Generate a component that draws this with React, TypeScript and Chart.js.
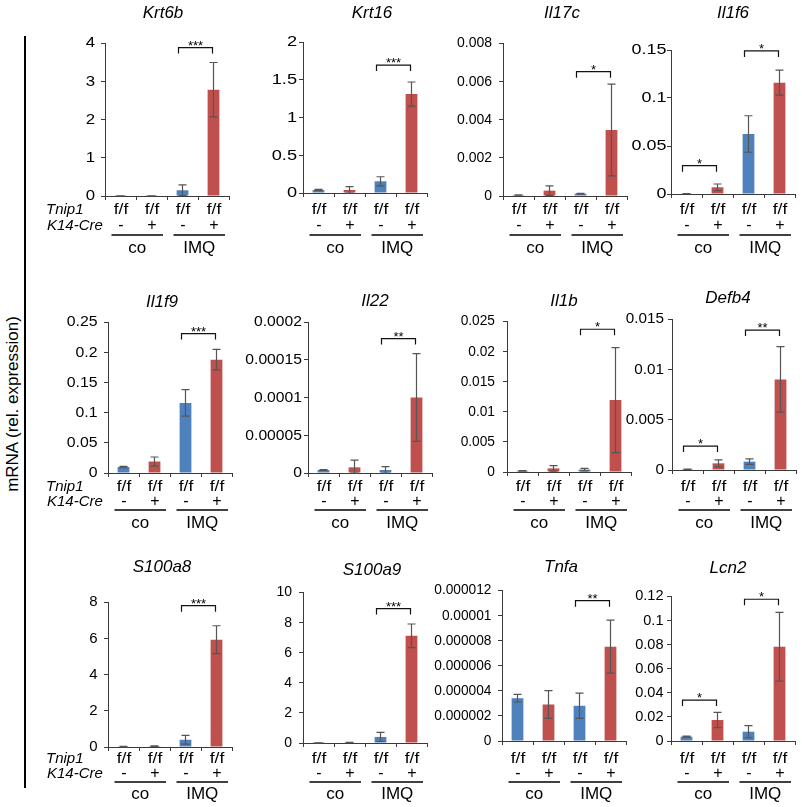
import React, { useEffect, useRef } from 'react';
import { Chart, registerables } from 'chart.js';

Chart.register(...registerables);

const FONT = "'Liberation Sans', Arial, Helvetica, sans-serif";
const AXIS_COLOR = '#3a3a3a';
const ERR_COLOR = '#555555';

// ---- shared categories / labels ----
const CATEGORIES = ['co -', 'co +', 'IMQ -', 'IMQ +'];
const TNIP1_LABELS = ['f/f', 'f/f', 'f/f', 'f/f'];
const CRE_LABELS = ['-', '+', '-', '+'];
const GROUP_LABELS = ['co', 'IMQ'];
const BAR_COLORS = ['#4F81BD', '#C0504D', '#4F81BD', '#C0504D'];
const Y_TITLE = 'mRNA (rel. expression)';

// ---- per-gene data ----
const krt6bMean = [0.004, 0.004, 0.15, 2.78];
const krt6bErr = [0.002, 0.002, 0.14, 0.71];
const krt6bTicks = ['0', '1', '2', '3', '4'];
const krt6bSig: [number, number, string, number][] = [[2, 3, '***', 3.88]];

const krt16Mean = [0.04, 0.04, 0.155, 1.31];
const krt16Err = [0.008, 0.045, 0.06, 0.16];
const krt16Ticks = ['0', '0.5', '1', '1.5', '2'];
const krt16Sig: [number, number, string, number][] = [[2, 3, '***', 1.695]];

const il17cMean = [0.00005, 0.00028, 0.00012, 0.00345];
const il17cErr = [0.00001, 0.00025, 0.00002, 0.0024];
const il17cTicks = ['0', '0.002', '0.004', '0.006', '0.008'];
const il17cSig: [number, number, string, number][] = [[2, 3, '*', 0.0065]];

const il1f6Mean = [0.0004, 0.007, 0.0625, 0.116];
const il1f6Err = [0.0001, 0.0034, 0.019, 0.013];
const il1f6Ticks = ['0', '0.05', '0.1', '0.15'];
const il1f6Sig: [number, number, string, number][] = [[0, 1, '*', 0.0295], [2, 3, '*', 0.149]];

const il1f9Mean = [0.0099, 0.019, 0.116, 0.1877];
const il1f9Err = [0.0012, 0.0075, 0.022, 0.017];
const il1f9Ticks = ['0', '0.05', '0.1', '0.15', '0.2', '0.25'];
const il1f9Sig: [number, number, string, number][] = [[2, 3, '***', 0.2308]];

const il22Mean = [0.000004, 0.0000075, 0.000004, 0.0001];
const il22Err = [0.0000005, 0.0000095, 0.0000045, 0.000058];
const il22Ticks = ['0', '0.00005', '0.0001', '0.00015', '0.0002'];
const il22Sig: [number, number, string, number][] = [[2, 3, '**', 0.000178]];

const il1bMean = [0.0002, 0.0006, 0.0004, 0.0119];
const il1bErr = [0.00005, 0.00045, 0.0002, 0.0087];
const il1bTicks = ['0', '0.005', '0.01', '0.015', '0.02', '0.025'];
const il1bSig: [number, number, string, number][] = [[2, 3, '*', 0.02363]];

const defb4Mean = [0.00008, 0.00066, 0.00083, 0.009];
const defb4Err = [0.00002, 0.00035, 0.00028, 0.00325];
const defb4Ticks = ['0', '0.005', '0.01', '0.015'];
const defb4Sig: [number, number, string, number][] = [[0, 1, '*', 0.00238], [2, 3, '**', 0.0139]];

const s100a8Mean = [0.02, 0.05, 0.4, 5.92];
const s100a8Err = [0.01, 0.02, 0.24, 0.77];
const s100a8Ticks = ['0', '2', '4', '6', '8'];
const s100a8Sig: [number, number, string, number][] = [[2, 3, '***', 7.8]];

const s100a9Mean = [0.005, 0.03, 0.4, 7.1];
const s100a9Err = [0.002, 0.01, 0.3, 0.78];
const s100a9Ticks = ['0', '2', '4', '6', '8', '10'];
const s100a9Sig: [number, number, string, number][] = [[2, 3, '***', 8.9]];

const tnfaMean = [0.0000034, 0.0000029, 0.0000028, 0.0000075];
const tnfaErr = [0.0000003, 0.0000011, 0.000001, 0.0000021];
const tnfaTicks = ['0', '0.000002', '0.000004', '0.000006', '0.000008', '0.00001', '0.000012'];
const tnfaSig: [number, number, string, number][] = [[2, 3, '**', 0.00001115]];

const lcn2Mean = [0.0036, 0.0174, 0.0077, 0.078];
const lcn2Err = [0.0005, 0.0063, 0.005, 0.0285];
const lcn2Ticks = ['0', '0.02', '0.04', '0.06', '0.08', '0.1', '0.12'];
const lcn2Sig: [number, number, string, number][] = [[0, 1, '*', 0.0339], [2, 3, '*', 0.1173]];

// ---- layout ----
const ROWS = [
  { top: 0, height: 268, ff: 210, sign: 226, line: 235, group: 248 },
  { top: 268, height: 272, ff: 487, sign: 502, line: 510, group: 523 },
  { top: 540, height: 267, ff: 759, sign: 774, line: 782, group: 794 },
];

type Panel = {
  title: string;
  mean: number[];
  err: number[];
  ticks: string[];
  sig: [number, number, string, number][];
  axisX: number;
  top: number;
  zero: number;
  titleX: number;
  titleY: number;
  row: number;
  rowNames: boolean;
  tickSX: number; // horizontal stretch of tick labels
  tickGap: number; // gap between label and axis
};

const PANELS: Panel[] = [
  { title: 'Krt6b', mean: krt6bMean, err: krt6bErr, ticks: krt6bTicks, sig: krt6bSig, axisX: 105, top: 43, zero: 196, titleX: 163, titleY: 13, row: 0, rowNames: true, tickSX: 1.2, tickGap: 10 },
  { title: 'Krt16', mean: krt16Mean, err: krt16Err, ticks: krt16Ticks, sig: krt16Sig, axisX: 303, top: 42, zero: 193, titleX: 372, titleY: 13, row: 0, rowNames: false, tickSX: 1.3, tickGap: 6 },
  { title: 'Il17c', mean: il17cMean, err: il17cErr, ticks: il17cTicks, sig: il17cSig, axisX: 503, top: 43, zero: 196, titleX: 562, titleY: 13, row: 0, rowNames: false, tickSX: 1.0, tickGap: 11 },
  { title: 'Il1f6', mean: il1f6Mean, err: il1f6Err, ticks: il1f6Ticks, sig: il1f6Sig, axisX: 671, top: 50, zero: 194, titleX: 733, titleY: 13, row: 0, rowNames: false, tickSX: 1.28, tickGap: 4.5 },
  { title: 'Il1f9', mean: il1f9Mean, err: il1f9Err, ticks: il1f9Ticks, sig: il1f9Sig, axisX: 108, top: 322, zero: 473, titleX: 162, titleY: 302, row: 1, rowNames: true, tickSX: 1.13, tickGap: 10.5 },
  { title: 'Il22', mean: il22Mean, err: il22Err, ticks: il22Ticks, sig: il22Sig, axisX: 308, top: 322, zero: 473, titleX: 375, titleY: 301, row: 1, rowNames: false, tickSX: 1.12, tickGap: 6 },
  { title: 'Il1b', mean: il1bMean, err: il1bErr, ticks: il1bTicks, sig: il1bSig, axisX: 507, top: 321, zero: 472, titleX: 564, titleY: 301, row: 1, rowNames: false, tickSX: 0.98, tickGap: 12 },
  { title: 'Defb4', mean: defb4Mean, err: defb4Err, ticks: defb4Ticks, sig: defb4Sig, axisX: 672, top: 319, zero: 470, titleX: 728, titleY: 298, row: 1, rowNames: false, tickSX: 1.09, tickGap: 8 },
  { title: 'S100a8', mean: s100a8Mean, err: s100a8Err, ticks: s100a8Ticks, sig: s100a8Sig, axisX: 108, top: 602, zero: 747, titleX: 162, titleY: 567, row: 2, rowNames: true, tickSX: 1.07, tickGap: 10.5 },
  { title: 'S100a9', mean: s100a9Mean, err: s100a9Err, ticks: s100a9Ticks, sig: s100a9Sig, axisX: 303, top: 592, zero: 743, titleX: 372, titleY: 570, row: 2, rowNames: false, tickSX: 1.0, tickGap: 11 },
  { title: 'Tnfa', mean: tnfaMean, err: tnfaErr, ticks: tnfaTicks, sig: tnfaSig, axisX: 502, top: 590, zero: 741, titleX: 561, titleY: 567, row: 2, rowNames: false, tickSX: 0.98, tickGap: 10.5 },
  { title: 'Lcn2', mean: lcn2Mean, err: lcn2Err, ticks: lcn2Ticks, sig: lcn2Sig, axisX: 671, top: 596, zero: 741, titleX: 728, titleY: 568, row: 2, rowNames: false, tickSX: 1.04, tickGap: 7.5 },
];

const LEFT_SPACE = 105;
const PLOT_W = 124;
const CANVAS_W = 240;

function stretchText(ctx: CanvasRenderingContext2D, text: string, x: number, y: number, sx: number) {
  ctx.save();
  ctx.translate(x, y);
  ctx.scale(sx, 1);
  ctx.fillText(text, 0, 0);
  ctx.restore();
}

function PanelChart({ p }: { p: Panel }) {
  const ref = useRef<HTMLCanvasElement | null>(null);
  const row = ROWS[p.row];
  const cLeft = p.axisX - LEFT_SPACE;
  const cTop = row.top;
  const W = CANVAS_W;
  const H = row.height;

  useEffect(() => {
    const canvas = ref.current;
    if (!canvas) return;
    const tickVals = p.ticks.map(Number);
    const X = (px: number) => px - cLeft;
    const Y = (py: number) => py - cTop;

    const overlay = {
      id: 'overlay',
      afterDatasetsDraw(chart: any) {
        const ctx = chart.ctx;
        const meta = chart.getDatasetMeta(0);
        const ys = chart.scales.y;
        ctx.save();
        ctx.strokeStyle = ERR_COLOR;
        ctx.lineWidth = 1.2;
        p.mean.forEach((m, i) => {
          const x = meta.data[i].x;
          const yt = ys.getPixelForValue(m + p.err[i]);
          const yb = ys.getPixelForValue(Math.max(m - p.err[i], 0));
          ctx.beginPath();
          ctx.moveTo(x, yt);
          ctx.lineTo(x, yb);
          ctx.moveTo(x - 4, yt);
          ctx.lineTo(x + 4, yt);
          ctx.moveTo(x - 4, yb);
          ctx.lineTo(x + 4, yb);
          ctx.stroke();
        });
        ctx.restore();
      },
      afterDraw(chart: any) {
        const ctx = chart.ctx;
        const xs = chart.scales.x;
        const ys = chart.scales.y;
        const cw = (xs.right - xs.left) / CATEGORIES.length;
        ctx.save();
        ctx.fillStyle = '#000';
        ctx.textBaseline = 'middle';
        // y tick labels
        ctx.textAlign = 'right';
        ctx.font = `14px ${FONT}`;
        tickVals.forEach((v, i) => {
          stretchText(ctx, p.ticks[i], ys.right - p.tickGap, ys.getPixelForValue(v) + 0.5, p.tickSX);
        });
        // title
        ctx.textAlign = 'center';
        ctx.font = `italic 17px ${FONT}`;
        ctx.fillText(p.title, X(p.titleX), Y(p.titleY));
        // significance brackets
        ctx.strokeStyle = '#111';
        ctx.lineWidth = 1.2;
        p.sig.forEach(([a, b, label, level]) => {
          const xa = xs.getPixelForValue(a) - 4;
          const xb = xs.getPixelForValue(b) - 1;
          const yl = ys.getPixelForValue(level);
          ctx.beginPath();
          ctx.moveTo(xa, yl + 6);
          ctx.lineTo(xa, yl);
          ctx.lineTo(xb, yl);
          ctx.lineTo(xb, yl + 6);
          ctx.stroke();
          ctx.font = `13px ${FONT}`;
          ctx.textBaseline = 'alphabetic';
          ctx.fillText(label, (xa + xb) / 2, yl + 2);
          ctx.textBaseline = 'middle';
        });
        // category labels
        CATEGORIES.forEach((_, i) => {
          const x = xs.getPixelForValue(i) + 0.5;
          ctx.font = `14px ${FONT}`;
          stretchText(ctx, TNIP1_LABELS[i], x, Y(row.ff), 1.25);
          ctx.font = `16px ${FONT}`;
          ctx.fillText(CRE_LABELS[i], x, Y(row.sign));
        });
        // group underline + labels
        ctx.strokeStyle = '#000';
        ctx.lineWidth = 1.3;
        GROUP_LABELS.forEach((g, gi) => {
          const bl = xs.left + gi * 2 * cw;
          const br = bl + 2 * cw;
          const x0 = bl + 6.5;
          const x1 = br - 4;
          ctx.beginPath();
          ctx.moveTo(x0, Y(row.line));
          ctx.lineTo(x1, Y(row.line));
          ctx.stroke();
          ctx.font = `17px ${FONT}`;
          ctx.fillText(g, (x0 + x1) / 2, Y(row.group));
        });
        if (p.rowNames) {
          ctx.textAlign = 'left';
          ctx.font = `italic 15px ${FONT}`;
          ctx.fillText('Tnip1', X(46), Y(row.ff));
          ctx.fillText('K14-Cre', X(47), Y(row.sign));
        }
        ctx.restore();
      },
    };

    const chart = new Chart(canvas, {
      type: 'bar',
      data: {
        labels: CATEGORIES,
        datasets: [
          {
            data: p.mean,
            backgroundColor: BAR_COLORS,
            borderWidth: 0,
            barPercentage: 0.38,
            categoryPercentage: 1,
          },
        ],
      },
      options: {
        responsive: false,
        animation: false,
        devicePixelRatio: 1,
        layout: {
          padding: {
            left: 0,
            right: W - LEFT_SPACE - PLOT_W,
            top: p.top - cTop,
            bottom: H - (p.zero - cTop) - 5,
          },
        },
        plugins: {
          legend: { display: false },
          tooltip: { enabled: false },
          title: { display: false },
        },
        scales: {
          x: {
            type: 'category',
            offset: true,
            grid: {
              offset: true,
              drawOnChartArea: false,
              drawTicks: true,
              tickLength: 4,
              color: AXIS_COLOR,
              lineWidth: 1,
            },
            border: { display: true, color: AXIS_COLOR, width: 1 },
            ticks: { display: false },
            afterFit: (s: any) => {
              s.height = 5;
            },
          },
          y: {
            type: 'linear',
            min: 0,
            max: tickVals[tickVals.length - 1],
            grid: {
              drawOnChartArea: false,
              drawTicks: true,
              tickLength: 4,
              color: AXIS_COLOR,
              lineWidth: 1,
            },
            border: { display: true, color: AXIS_COLOR, width: 1 },
            ticks: { display: false },
            afterBuildTicks: (s: any) => {
              s.ticks = tickVals.map((v) => ({ value: v }));
            },
            afterFit: (s: any) => {
              s.width = LEFT_SPACE;
            },
          },
        },
      },
      plugins: [overlay],
    } as any);
    return () => chart.destroy();
  }, []);

  return (
    <canvas
      ref={ref}
      width={W}
      height={H}
      style={{ position: 'absolute', left: cLeft, top: cTop, width: W, height: H }}
    />
  );
}

export default function App() {
  return (
    <div style={{ position: 'absolute', left: 0, top: 0, width: 802, height: 807, background: '#fff', overflow: 'hidden' }}>
      <div style={{ position: 'absolute', left: 24, top: 36, width: 2, height: 752, background: '#000' }} />
      <div
        style={{
          position: 'absolute',
          left: 12,
          top: 404,
          transform: 'translate(-50%, -50%) rotate(-90deg)',
          whiteSpace: 'nowrap',
          fontFamily: FONT,
          fontSize: 17,
          color: '#000',
          lineHeight: 1,
        }}
      >
        {Y_TITLE}
      </div>
      {PANELS.map((p) => (
        <PanelChart key={p.title} p={p} />
      ))}
    </div>
  );
}
